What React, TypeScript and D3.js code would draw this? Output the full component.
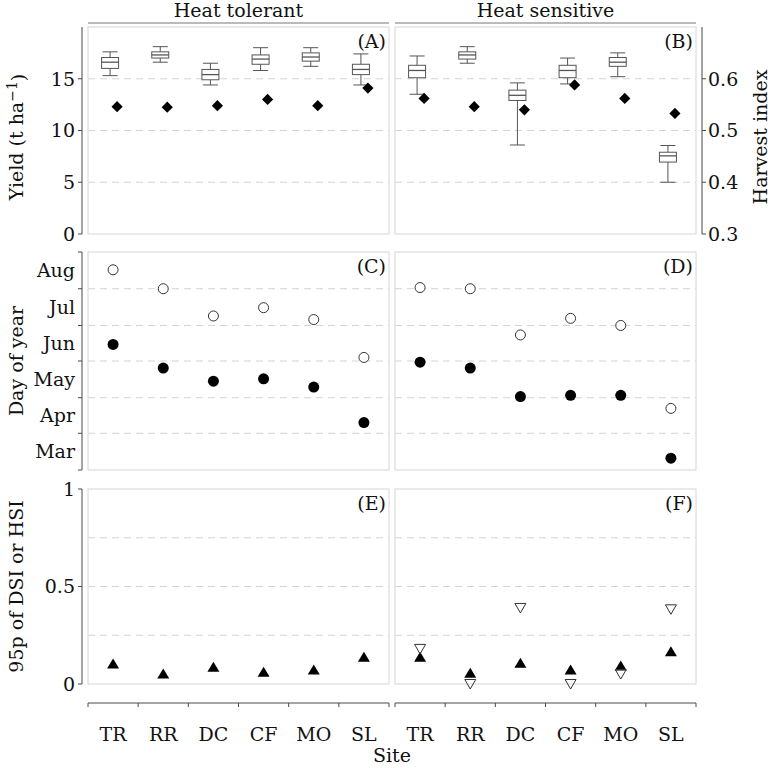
import React from 'react';
import * as d3 from 'd3';

const sites = ['TR', 'RR', 'DC', 'CF', 'MO', 'SL'];
const groups = ['Heat tolerant', 'Heat sensitive'];
const panelTags = [['(A)', '(B)'], ['(C)', '(D)'], ['(E)', '(F)']];

// yield boxplots: [lower whisker, Q1, median, Q3, upper whisker] (t/ha)
const tolerantYield = [
  [15.3, 16.0, 16.6, 17.05, 17.6],
  [16.6, 17.0, 17.3, 17.6, 18.1],
  [14.4, 14.9, 15.4, 15.9, 16.5],
  [15.8, 16.4, 16.9, 17.3, 18.0],
  [16.2, 16.7, 17.1, 17.5, 18.0],
  [14.4, 15.4, 15.9, 16.4, 17.4],
];
const sensitiveYield = [
  [13.5, 15.1, 15.8, 16.3, 17.2],
  [16.5, 16.9, 17.3, 17.6, 18.1],
  [8.6, 12.9, 13.4, 13.9, 14.6],
  [14.5, 15.1, 15.8, 16.3, 17.0],
  [15.2, 16.2, 16.6, 17.05, 17.5],
  [5.0, 6.95, 7.55, 7.9, 8.55],
];
// harvest index (diamonds)
const tolerantHI = [0.546, 0.545, 0.548, 0.56, 0.548, 0.582];
const sensitiveHI = [0.562, 0.546, 0.54, 0.588, 0.562, 0.533];

// day of year: filled circles (earlier stage), open circles (later stage)
const tolerantEarlyDoy = [166, 146, 135, 137, 130, 100];
const tolerantLateDoy = [229, 213, 190, 197, 187, 155];
const sensitiveEarlyDoy = [151, 146, 122, 123, 123, 70];
const sensitiveLateDoy = [214, 213, 174, 188, 182, 112];

// 95th percentile of stress index: filled up-triangles, open down-triangles
const tolerantUp = [0.103, 0.051, 0.086, 0.06, 0.072, 0.137];
const sensitiveUp = [0.137, 0.055, 0.106, 0.072, 0.092, 0.166];
const sensitiveDown = [0.18, 0.0, 0.39, 0.0, 0.051, 0.383];

const yieldTicks = [0, 5, 10, 15];
const yieldGrid = [5, 10, 15];
const hiTicks = [0.3, 0.4, 0.5, 0.6];
const monthBreaks = [60, 91, 121, 152, 182, 213, 244];
const monthGrid = [91, 121, 152, 182, 213];
const monthLabels = ['Mar', 'Apr', 'May', 'Jun', 'Jul', 'Aug'];
const indexTicks = [0, 0.5, 1];
const indexTickLabels = ['0', '0.5', '1'];
const indexGrid = [0.25, 0.5, 0.75];

const FONT = 'DejaVu Serif';
const FS = 19;
const AXIS = '#4a4a4a';
const FRAME = '#d6d6d6';
const GRID = '#d3d3d3';

export default function App() {
  const W = 771, H = 768;
  const cols = [[88, 389], [395, 696]];
  const rows = [[27, 234], [252, 470], [489, 684]];
  const leftAxisX = 82;
  const rightAxisX = 702;
  const xAxisY = 703;

  const xs = cols.map(c => d3.scaleBand<string>().domain(sites).range(c as [number, number]).padding(0));
  const yYield = d3.scaleLinear().domain([0, 20]).range([rows[0][1], rows[0][0]]);
  const yHI = d3.scaleLinear().domain([0.3, 0.7]).range([rows[0][1], rows[0][0]]);
  const yDoy = d3.scaleLinear().domain([60, 244]).range([rows[1][1], rows[1][0]]);
  const yIdx = d3.scaleLinear().domain([0, 1]).range([rows[2][1], rows[2][0]]);

  const yieldData = [tolerantYield, sensitiveYield];
  const hiData = [tolerantHI, sensitiveHI];
  const earlyData = [tolerantEarlyDoy, sensitiveEarlyDoy];
  const lateData = [tolerantLateDoy, sensitiveLateDoy];
  const upData = [tolerantUp, sensitiveUp];
  const downData: (number[] | null)[] = [null, sensitiveDown];

  const boxW = 17, capW = 15, dodgeBox = -3, dodgeDia = 4;
  const diamond = (x: number, y: number, r = 5.6) => `M${x},${y - r}L${x + r},${y}L${x},${y + r}L${x - r},${y}Z`;
  const triUp = (x: number, y: number) => `M${x},${y - 5.5}L${x + 6},${y + 4.5}L${x - 6},${y + 4.5}Z`;
  const triDown = (x: number, y: number) => `M${x - 5.5},${y - 4.5}L${x + 5.5},${y - 4.5}L${x},${y + 5}Z`;

  const textProps = { fontFamily: FONT, fontSize: FS, fill: '#111' };

  return (
    <svg width={W} height={H} style={{ position: 'absolute', left: 0, top: 0, background: '#fff' }}>
      {/* strips */}
      {cols.map((c, i) => (
        <g key={'strip' + i}>
          <line x1={c[0]} x2={c[1]} y1={23} y2={23} stroke="#777" strokeWidth={1.2} />
          <text x={(c[0] + c[1]) / 2} y={17} textAnchor="middle" {...textProps}>{groups[i]}</text>
        </g>
      ))}

      {/* grid lines */}
      {cols.map((c, i) => (
        <g key={'grid' + i} stroke={GRID} strokeWidth={1} strokeDasharray="7,5">
          {yieldGrid.map(v => <line key={'a' + v} x1={c[0]} x2={c[1]} y1={yYield(v)} y2={yYield(v)} />)}
          {monthGrid.map(v => <line key={'m' + v} x1={c[0]} x2={c[1]} y1={yDoy(v)} y2={yDoy(v)} />)}
          {indexGrid.map(v => <line key={'i' + v} x1={c[0]} x2={c[1]} y1={yIdx(v)} y2={yIdx(v)} />)}
        </g>
      ))}

      {/* panel frames + tags */}
      {rows.map((r, ri) => cols.map((c, ci) => (
        <g key={'f' + ri + ci}>
          <rect x={c[0]} y={r[0]} width={c[1] - c[0]} height={r[1] - r[0]} fill="none" stroke={FRAME} strokeWidth={1} />
          <text x={c[1] - 3} y={r[0] + 21} textAnchor="end" {...textProps}>{panelTags[ri][ci]}</text>
        </g>
      )))}

      {/* y axes */}
      <g stroke={AXIS} strokeWidth={1}>
        <line x1={leftAxisX} x2={leftAxisX} y1={yYield(20)} y2={yYield(0)} />
        {yieldTicks.map(v => <line key={'yt' + v} x1={leftAxisX - 4} x2={leftAxisX} y1={yYield(v)} y2={yYield(v)} />)}
        <line x1={leftAxisX} x2={leftAxisX} y1={yDoy(244)} y2={yDoy(60)} />
        {monthBreaks.map(v => <line key={'mt' + v} x1={leftAxisX - 4} x2={leftAxisX} y1={yDoy(v)} y2={yDoy(v)} />)}
        <line x1={leftAxisX} x2={leftAxisX} y1={yIdx(1)} y2={yIdx(0)} />
        {indexTicks.map(v => <line key={'it' + v} x1={leftAxisX - 4} x2={leftAxisX} y1={yIdx(v)} y2={yIdx(v)} />)}
        <line x1={rightAxisX} x2={rightAxisX} y1={yHI(0.7)} y2={yHI(0.3)} />
        {hiTicks.map(v => <line key={'ht' + v} x1={rightAxisX} x2={rightAxisX + 4} y1={yHI(v)} y2={yHI(v)} />)}
      </g>
      {yieldTicks.map(v => (
        <text key={'yl' + v} x={leftAxisX - 7} y={yYield(v)} dy="0.36em" textAnchor="end" {...textProps}>{v}</text>
      ))}
      {monthLabels.map((m, i) => (
        <text key={'ml' + m} x={leftAxisX - 7} y={yDoy((monthBreaks[i] + monthBreaks[i + 1]) / 2)} dy="0.36em" textAnchor="end" {...textProps}>{m}</text>
      ))}
      {indexTicks.map((v, i) => (
        <text key={'il' + v} x={leftAxisX - 7} y={yIdx(v)} dy="0.36em" textAnchor="end" {...textProps}>{indexTickLabels[i]}</text>
      ))}
      {hiTicks.map(v => (
        <text key={'hl' + v} x={rightAxisX + 6} y={yHI(v)} dy="0.36em" textAnchor="start" {...textProps}>{d3.format('.1f')(v)}</text>
      ))}

      {/* axis titles */}
      <text transform={`translate(16,137) rotate(-90)`} dy="0.36em" textAnchor="middle" {...textProps}>
        Yield (t ha<tspan dy="-0.45em" fontSize={14}>−1</tspan><tspan dy="0.45em">)</tspan>
      </text>
      <text transform={`translate(16,${(rows[1][0] + rows[1][1]) / 2}) rotate(-90)`} dy="0.36em" textAnchor="middle" {...textProps}>Day of year</text>
      <text transform={`translate(16,${(rows[2][0] + rows[2][1]) / 2}) rotate(-90)`} dy="0.36em" textAnchor="middle" {...textProps}>95p of DSI or HSI</text>
      <text transform={`translate(760,137) rotate(-90)`} dy="0.36em" textAnchor="middle" {...textProps}>Harvest index</text>

      {/* x axes */}
      {cols.map((c, i) => (
        <g key={'xa' + i}>
          <g stroke={AXIS} strokeWidth={1}>
            <line x1={c[0]} x2={c[1]} y1={xAxisY} y2={xAxisY} />
            {sites.map(s => <line key={s} x1={xs[i](s)!} x2={xs[i](s)!} y1={xAxisY} y2={xAxisY + 4} />)}
            <line x1={c[1]} x2={c[1]} y1={xAxisY} y2={xAxisY + 4} />
          </g>
          {sites.map(s => (
            <text key={s} x={xs[i](s)! + xs[i].bandwidth() / 2} y={741} textAnchor="middle" {...textProps}>{s}</text>
          ))}
        </g>
      ))}
      <text x={(cols[0][0] + cols[1][1]) / 2} y={762} textAnchor="middle" {...textProps}>Site</text>

      {/* boxplots + HI diamonds */}
      {cols.map((c, i) => (
        <g key={'box' + i}>
          {yieldData[i].map((b, k) => {
            const cx = xs[i](sites[k])! + xs[i].bandwidth() / 2 + dodgeBox;
            const [lo, q1, med, q3, hi] = b;
            return (
              <g key={k} stroke="#555" strokeWidth={1} fill="none">
                <line x1={cx} x2={cx} y1={yYield(hi)} y2={yYield(q3)} />
                <line x1={cx} x2={cx} y1={yYield(q1)} y2={yYield(lo)} />
                <line x1={cx - capW / 2} x2={cx + capW / 2} y1={yYield(hi)} y2={yYield(hi)} />
                <line x1={cx - capW / 2} x2={cx + capW / 2} y1={yYield(lo)} y2={yYield(lo)} />
                <rect x={cx - boxW / 2} y={yYield(q3)} width={boxW} height={yYield(q1) - yYield(q3)} fill="#fff" />
                <line x1={cx - boxW / 2} x2={cx + boxW / 2} y1={yYield(med)} y2={yYield(med)} strokeWidth={1.3} />
              </g>
            );
          })}
          {hiData[i].map((v, k) => {
            const cx = xs[i](sites[k])! + xs[i].bandwidth() / 2 + dodgeDia;
            return <path key={'d' + k} d={diamond(cx, yHI(v))} fill="#000" />;
          })}
        </g>
      ))}

      {/* phenology */}
      {cols.map((c, i) => (
        <g key={'ph' + i}>
          {lateData[i].map((v, k) => (
            <circle key={'o' + k} cx={xs[i](sites[k])! + xs[i].bandwidth() / 2} cy={yDoy(v)} r={5} fill="#fff" stroke="#333" strokeWidth={1} />
          ))}
          {earlyData[i].map((v, k) => (
            <circle key={'f' + k} cx={xs[i](sites[k])! + xs[i].bandwidth() / 2} cy={yDoy(v)} r={5.5} fill="#000" />
          ))}
        </g>
      ))}

      {/* stress index */}
      {cols.map((c, i) => (
        <g key={'si' + i}>
          {upData[i].map((v, k) => (
            <path key={'u' + k} d={triUp(xs[i](sites[k])! + xs[i].bandwidth() / 2, yIdx(v))} fill="#000" />
          ))}
          {downData[i] && downData[i]!.map((v, k) => (
            <path key={'w' + k} d={triDown(xs[i](sites[k])! + xs[i].bandwidth() / 2, yIdx(v))} fill="none" stroke="#333" strokeWidth={1} />
          ))}
        </g>
      ))}
    </svg>
  );
}
